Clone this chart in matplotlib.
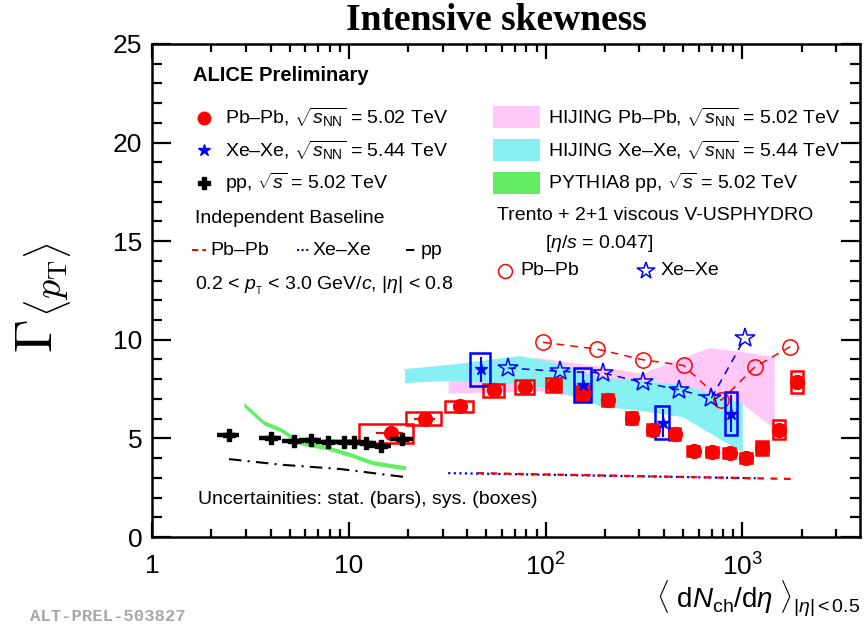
import numpy as np
import matplotlib
matplotlib.use('Agg')
import matplotlib.pyplot as plt
from matplotlib.patches import Rectangle
from matplotlib.ticker import LogLocator, MultipleLocator, NullFormatter

plt.rcParams['font.family'] = ['Liberation Sans', 'DejaVu Sans']
plt.rcParams['mathtext.fontset'] = 'custom'
plt.rcParams['mathtext.rm'] = 'Liberation Sans'
plt.rcParams['mathtext.it'] = 'Liberation Sans:italic'
plt.rcParams['mathtext.bf'] = 'Liberation Sans:bold'

# ---- ALICE data ----
pbpb_x = [16.3, 24.5, 36.8, 54.7, 78.7, 110, 155, 207, 274, 350, 453, 565, 705, 861, 1050, 1265, 1542, 1900]
pbpb_y = [5.25, 6.0, 6.62, 7.45, 7.6, 7.72, 7.3, 6.95, 6.05, 5.45, 5.23, 4.37, 4.32, 4.27, 4.01, 4.5, 5.45, 7.85]
pbpb_xstat = [2.5, 3.0, 2.5, 2.5, 0, 0, 0, 0, 0, 0, 0, 0, 0, 0, 0, 0, 0, 0]
pbpb_xsys = [5.0, 4.9, 6.0, 6.5, 8.4, 10, 12.6, 14, 19, 24, 31, 39, 49, 60, 73, 88, 107, 132]
pbpb_ysys = [0.48, 0.33, 0.3, 0.33, 0.36, 0.36, 0.36, 0.3, 0.3, 0.3, 0.3, 0.25, 0.25, 0.25, 0.25, 0.35, 0.46, 0.55]

xexe_x = [47.0, 155, 393, 881]
xexe_y = [8.5, 7.72, 5.79, 6.25]
xexe_ystat = [0.65, 0.7, 0.7, 0.93]
xexe_xsys = [5.5, 15, 31, 63]
xexe_ysys = [0.82, 0.86, 0.84, 1.1]

pp_x = [2.46, 4.01, 5.25, 6.4, 7.8, 9.4, 10.6, 12.2, 14.5, 18.7]
pp_y = [5.15, 5.02, 4.85, 4.92, 4.82, 4.82, 4.8, 4.75, 4.63, 4.98]

# ---- independent baselines ----
base_pp_x = [2.46, 4.6, 9.0, 19.0]
base_pp_y = [3.95, 3.66, 3.45, 3.05]
base_xexe_x = [32, 1170]
base_xexe_y = [3.24, 2.98]
base_pbpb_x = [45, 1900]
base_pbpb_y = [3.24, 2.94]

# ---- models ----
hij_pb_x = [32, 90, 189, 308, 676, 1000, 1450]
hij_pb_lo = [7.3, 7.4, 7.0, 6.8, 6.8, 6.75, 5.5]
hij_pb_hi = [8.2, 9.1, 8.65, 8.3, 9.6, 9.4, 9.15]

hij_xe_x = [19.2, 32, 74, 110, 189, 312, 497, 1000]
hij_xe_lo = [7.83, 7.95, 7.75, 7.5, 6.65, 6.4, 6.1, 4.3]
hij_xe_hi = [8.54, 8.75, 9.2, 8.85, 8.1, 7.95, 7.72, 6.8]

pyth_x = [2.93, 3.70, 4.51, 5.69, 7.80, 10.2, 13.3, 19.4]
pyth_y = [6.71, 5.79, 5.44, 4.78, 4.52, 4.17, 3.76, 3.51]
pyth_w = 0.11

trento_pb_x = [97, 182, 312, 503, 782, 1161, 1753]
trento_pb_y = [9.87, 9.53, 8.99, 8.70, 6.93, 8.63, 9.65]
trento_xe_x = [64.5, 118, 195, 312, 474, 697, 1033]
trento_xe_y = [8.57, 8.40, 8.32, 7.84, 7.47, 7.05, 10.10]

RED = '#ff0000'
BLUE = '#0000ff'
PINK = '#ffc8f6'
CYAN = '#86f0f2'
GREEN = '#62ee62'

fig = plt.figure(figsize=(8.64, 6.27), dpi=100)
ax = fig.add_axes([0.176, 0.1435, 0.819, 0.7865])

# bands
ax.fill_between(hij_pb_x, hij_pb_lo, hij_pb_hi, color=PINK, lw=0, zorder=1)
ax.fill_between(hij_xe_x, hij_xe_lo, hij_xe_hi, color=CYAN, lw=0, zorder=1.1)
pyth_y = np.array(pyth_y)
ax.fill_between(pyth_x, pyth_y - pyth_w, pyth_y + pyth_w, color=GREEN, lw=0, zorder=1.2)

# baselines
ax.plot(base_pp_x, base_pp_y, color='k', lw=1.5, dashes=(6, 3, 1, 3), zorder=2)
ax.plot(base_xexe_x, base_xexe_y, color=BLUE, lw=1.6, dashes=(1, 1.5), zorder=2)
ax.plot(base_pbpb_x, base_pbpb_y, color=RED, lw=1.6, dashes=(3, 3), zorder=2.1)

# Trento
ax.plot(trento_pb_x, trento_pb_y, color=RED, lw=1.1, dashes=(5, 4), marker='o', ms=11,
        mfc='none', mec=RED, mew=1.1, zorder=3)
ax.plot(trento_xe_x, trento_xe_y, color=BLUE, lw=1.1, dashes=(5, 4), marker='*', ms=15,
        mfc='none', mec=BLUE, mew=1.1, zorder=3)

# Pb-Pb
for x, y, dx, dy in zip(pbpb_x, pbpb_y, pbpb_xsys, pbpb_ysys):
    ax.add_patch(Rectangle((x - dx, y - dy), 2 * dx, 2 * dy, fill=False, ec=RED, lw=1.8, zorder=4))
ax.errorbar(pbpb_x, pbpb_y, xerr=pbpb_xstat, fmt='o', color=RED, ms=10, elinewidth=1.5,
            capsize=0, zorder=5)

# Xe-Xe
for x, y, dx, dy in zip(xexe_x, xexe_y, xexe_xsys, xexe_ysys):
    ax.add_patch(Rectangle((x - dx, y - dy), 2 * dx, 2 * dy, fill=False, ec=BLUE, lw=1.8, zorder=4))
ax.errorbar(xexe_x, xexe_y, yerr=xexe_ystat, fmt='*', color=BLUE, ms=9, elinewidth=1.5,
            capsize=0, zorder=5)

# pp
pp_xerr = np.array(pp_x) * 0.13
ax.errorbar(pp_x, pp_y, xerr=pp_xerr, fmt='P', color='k', ms=9, elinewidth=3.2,
            capsize=0, zorder=6)

# axes
ax.set_xscale('log')
ax.set_xlim(1, 3950)
ax.set_ylim(0, 25)
ax.set_xticks([1, 10, 100, 1000])
ax.set_xticklabels(['1', '10', '$10^2$', '$10^3$'])
ax.xaxis.set_minor_locator(LogLocator(subs=np.arange(2, 10)))
ax.xaxis.set_minor_formatter(NullFormatter())
ax.yaxis.set_major_locator(MultipleLocator(5))
ax.yaxis.set_minor_locator(MultipleLocator(1))
ax.tick_params(which='both', direction='in', top=True, right=True, width=1.6, labelsize=19)
ax.tick_params(axis='x', which='major', length=11, pad=12)
ax.tick_params(axis='x', which='minor', length=5.5)
ax.tick_params(axis='y', which='major', length=14, pad=7)
ax.tick_params(axis='y', which='minor', length=7)
for s in ax.spines.values():
    s.set_linewidth(1.8)

fig.text(0.575, 0.967, 'Intensive skewness', ha='center', va='center',
         fontfamily='Liberation Serif', fontweight='bold', fontsize=27)
fig.text(0.052, 0.525, r'$\Gamma_{\langle p_{\rm T}\rangle}$', rotation=90, ha='center', va='center',
         fontsize=39, math_fontfamily='cm')
fig.text(0.995, 0.045, r'$\langle\ \mathrm{d}N_{\rm ch}/\mathrm{d}\eta\ \rangle_{|\eta|<0.5}$',
         ha='right', va='center', fontsize=20)
fig.text(0.035, 0.004, 'ALT-PREL-503827', ha='left', va='bottom', fontfamily='Liberation Mono',
         fontweight='bold', fontsize=12.5, color='#a8a8a8')

# legend block (left)
T = ax.transAxes
fs = 14
ax.text(0.058, 0.935, 'ALICE Preliminary', transform=T, fontsize=14.5, fontweight='bold', va='center')
ax.plot([0.073], [0.850], 'o', color=RED, ms=9, transform=T, clip_on=False)
ax.plot([0.073], [0.785], '*', color=BLUE, ms=9, transform=T, clip_on=False)
ax.plot([0.073], [0.718], 'P', color='k', ms=9, transform=T, clip_on=False)
ax.text(0.103, 0.850, r'Pb–Pb, $\sqrt{s_{\rm NN}}$ = 5.02 TeV', transform=T, fontsize=fs, va='center')
ax.text(0.103, 0.785, r'Xe–Xe, $\sqrt{s_{\rm NN}}$ = 5.44 TeV', transform=T, fontsize=fs, va='center')
ax.text(0.103, 0.718, r'pp, $\sqrt{s}$ = 5.02 TeV', transform=T, fontsize=fs, va='center')
ax.text(0.061, 0.645, 'Independent Baseline', transform=T, fontsize=fs, va='center')
ax.plot([0.056, 0.076], [0.582, 0.582], color=RED, lw=1.5, dashes=(3, 2), transform=T)
ax.text(0.082, 0.582, 'Pb–Pb', transform=T, fontsize=fs, va='center')
ax.plot([0.205, 0.222], [0.582, 0.582], color=BLUE, lw=1.5, dashes=(1, 1.2), transform=T)
ax.text(0.227, 0.582, 'Xe–Xe', transform=T, fontsize=fs, va='center')
ax.plot([0.359, 0.376], [0.582, 0.582], color='k', lw=1.5, dashes=(4, 2, 1, 2), transform=T)
ax.text(0.380, 0.582, 'pp', transform=T, fontsize=fs, va='center')
ax.text(0.061, 0.509, r'0.2 < $p_{_{\rm T}}$ < 3.0 GeV/$c$, |$\eta$| < 0.8', transform=T,
        fontsize=fs, va='center')
ax.text(0.065, 0.077, 'Uncertainities: stat. (bars), sys. (boxes)', transform=T, fontsize=fs, va='center')

# legend block (right)
for yc, col in zip([0.852, 0.785, 0.718], [PINK, CYAN, GREEN]):
    ax.add_patch(Rectangle((0.482, yc - 0.022), 0.066, 0.044, color=col, lw=0, transform=T))
ax.text(0.559, 0.852, r'HIJING Pb–Pb, $\sqrt{s_{\rm NN}}$ = 5.02 TeV', transform=T, fontsize=fs, va='center')
ax.text(0.559, 0.785, r'HIJING Xe–Xe, $\sqrt{s_{\rm NN}}$ = 5.44 TeV', transform=T, fontsize=fs, va='center')
ax.text(0.559, 0.718, r'PYTHIA8 pp, $\sqrt{s}$ = 5.02 TeV', transform=T, fontsize=fs, va='center')
ax.text(0.487, 0.653, 'Trento + 2+1 viscous V-USPHYDRO', transform=T, fontsize=fs, va='center')
ax.text(0.555, 0.596, r'[$\eta/s$ = 0.047]', transform=T, fontsize=fs, va='center')
ax.plot([0.499], [0.540], 'o', ms=10, mfc='none', mec=RED, mew=1.1, transform=T)
ax.text(0.520, 0.540, 'Pb–Pb', transform=T, fontsize=fs, va='center')
ax.plot([0.698], [0.540], '*', ms=13, mfc='none', mec=BLUE, mew=1.1, transform=T)
ax.text(0.718, 0.540, 'Xe–Xe', transform=T, fontsize=fs, va='center')

fig.savefig('out.png', dpi=100)
